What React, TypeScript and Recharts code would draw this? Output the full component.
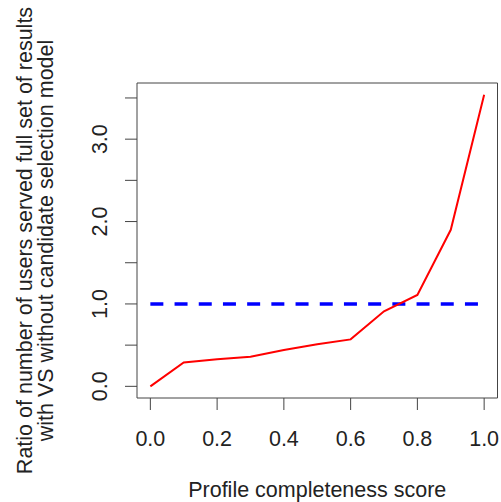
import { LineChart, Line, XAxis, YAxis, ReferenceLine, ReferenceArea, Label } from "recharts";

// profile completeness score vs ratio of users served the full result set
const completeness = [0, 0.1, 0.2, 0.3, 0.4, 0.5, 0.6, 0.7, 0.8, 0.9, 1.0];
const ratio = [0, 0.29, 0.33, 0.36, 0.44, 0.51, 0.57, 0.91, 1.11, 1.9, 3.54];

const xTicks = [0, 0.2, 0.4, 0.6, 0.8, 1.0];
const xTickLabels = ["0.0", "0.2", "0.4", "0.6", "0.8", "1.0"];
const yTicks = [0, 0.5, 1, 1.5, 2, 2.5, 3, 3.5];
const yTickLabels = ["0.0", "", "1.0", "", "2.0", "", "3.0", ""];

const refLevel = 1;

const FONT = '"Liberation Sans", Arial, Helvetica, sans-serif';
const FS = 21.5;
const AXIS = "#444";

const data = completeness.map((x, i) => ({ x, ratio: ratio[i] }));

// R-style 4% padding on each side
const xMin = 0 - 0.04 * (1 - 0);
const xMax = 1 + 0.04 * (1 - 0);
const yTop = Math.max(...ratio);
const yMin = 0 - 0.04 * yTop;
const yMax = yTop + 0.04 * yTop;

function XTick(props: any) {
  const { x, y, payload, index } = props;
  const label = xTickLabels[index] ?? String(payload.value);
  return (
    <text x={x} y={y + 34} textAnchor="middle" fontSize={FS} fontFamily={FONT} fill="#222">
      {label}
    </text>
  );
}

function YTick(props: any) {
  const { x, y, index } = props;
  const label = yTickLabels[index];
  if (!label) return <g />;
  const bx = x - 16;
  return (
    <text
      x={bx}
      y={y}
      transform={`rotate(-90, ${bx}, ${y})`}
      textAnchor="middle"
      fontSize={FS}
      fontFamily={FONT}
      fill="#222"
    >
      {label}
    </text>
  );
}

function XTitle(props: any) {
  const vb = props.viewBox ?? { x: 137, y: 398, width: 361, height: 104 };
  return (
    <text x={vb.x + vb.width / 2} y={vb.y + 98.5} textAnchor="middle" fontSize={FS} fontFamily={FONT} fill="#222">
      Profile completeness score
    </text>
  );
}

function YTitle(props: any) {
  const vb = props.viewBox ?? { x: 0, y: 83, width: 137, height: 315 };
  const cy = vb.y + vb.height / 2;
  const x1 = vb.x + 31.5;
  const x2 = vb.x + 53;
  return (
    <g>
      <text x={x1} y={cy} transform={`rotate(-90, ${x1}, ${cy})`} textAnchor="middle" fontSize={FS} fontFamily={FONT} fill="#222">
        Ratio of number of users served full set of results
      </text>
      <text x={x2} y={cy} transform={`rotate(-90, ${x2}, ${cy})`} textAnchor="middle" fontSize={FS} fontFamily={FONT} fill="#222">
        with VS without candidate selection model
      </text>
    </g>
  );
}

export default function App() {
  return (
    <div style={{ position: "absolute", left: 0, top: 0, width: 501, height: 502, background: "#fff" }}>
      <LineChart width={501} height={502} data={data} margin={{ top: 83, right: 3.5, bottom: 0, left: 0 }}>
        <XAxis
          dataKey="x"
          type="number"
          domain={[xMin, xMax]}
          ticks={xTicks}
          allowDataOverflow
          axisLine={false}
          tickLine={{ stroke: AXIS }}
          tickSize={12}
          height={104}
          tick={<XTick />}
          interval={0}
        >
          <Label content={<XTitle />} />
        </XAxis>
        <YAxis
          type="number"
          domain={[yMin, yMax]}
          ticks={yTicks}
          allowDataOverflow
          axisLine={false}
          tickLine={{ stroke: AXIS }}
          tickSize={12}
          width={137}
          tick={<YTick />}
          interval={0}
        >
          <Label content={<YTitle />} />
        </YAxis>
        <ReferenceArea x1={xMin} x2={xMax} y1={yMin} y2={yMax} fill="none" stroke={AXIS} strokeWidth={1} />
        <ReferenceLine
          segment={[
            { x: 0, y: refLevel },
            { x: 1, y: refLevel },
          ]}
          stroke="#0000ff"
          strokeWidth={3.5}
          strokeDasharray="13 11.2"
        />
        <Line
          dataKey="ratio"
          stroke="#ff0000"
          strokeWidth={2}
          dot={false}
          activeDot={false}
          isAnimationActive={false}
          type="linear"
        />
      </LineChart>
    </div>
  );
}
